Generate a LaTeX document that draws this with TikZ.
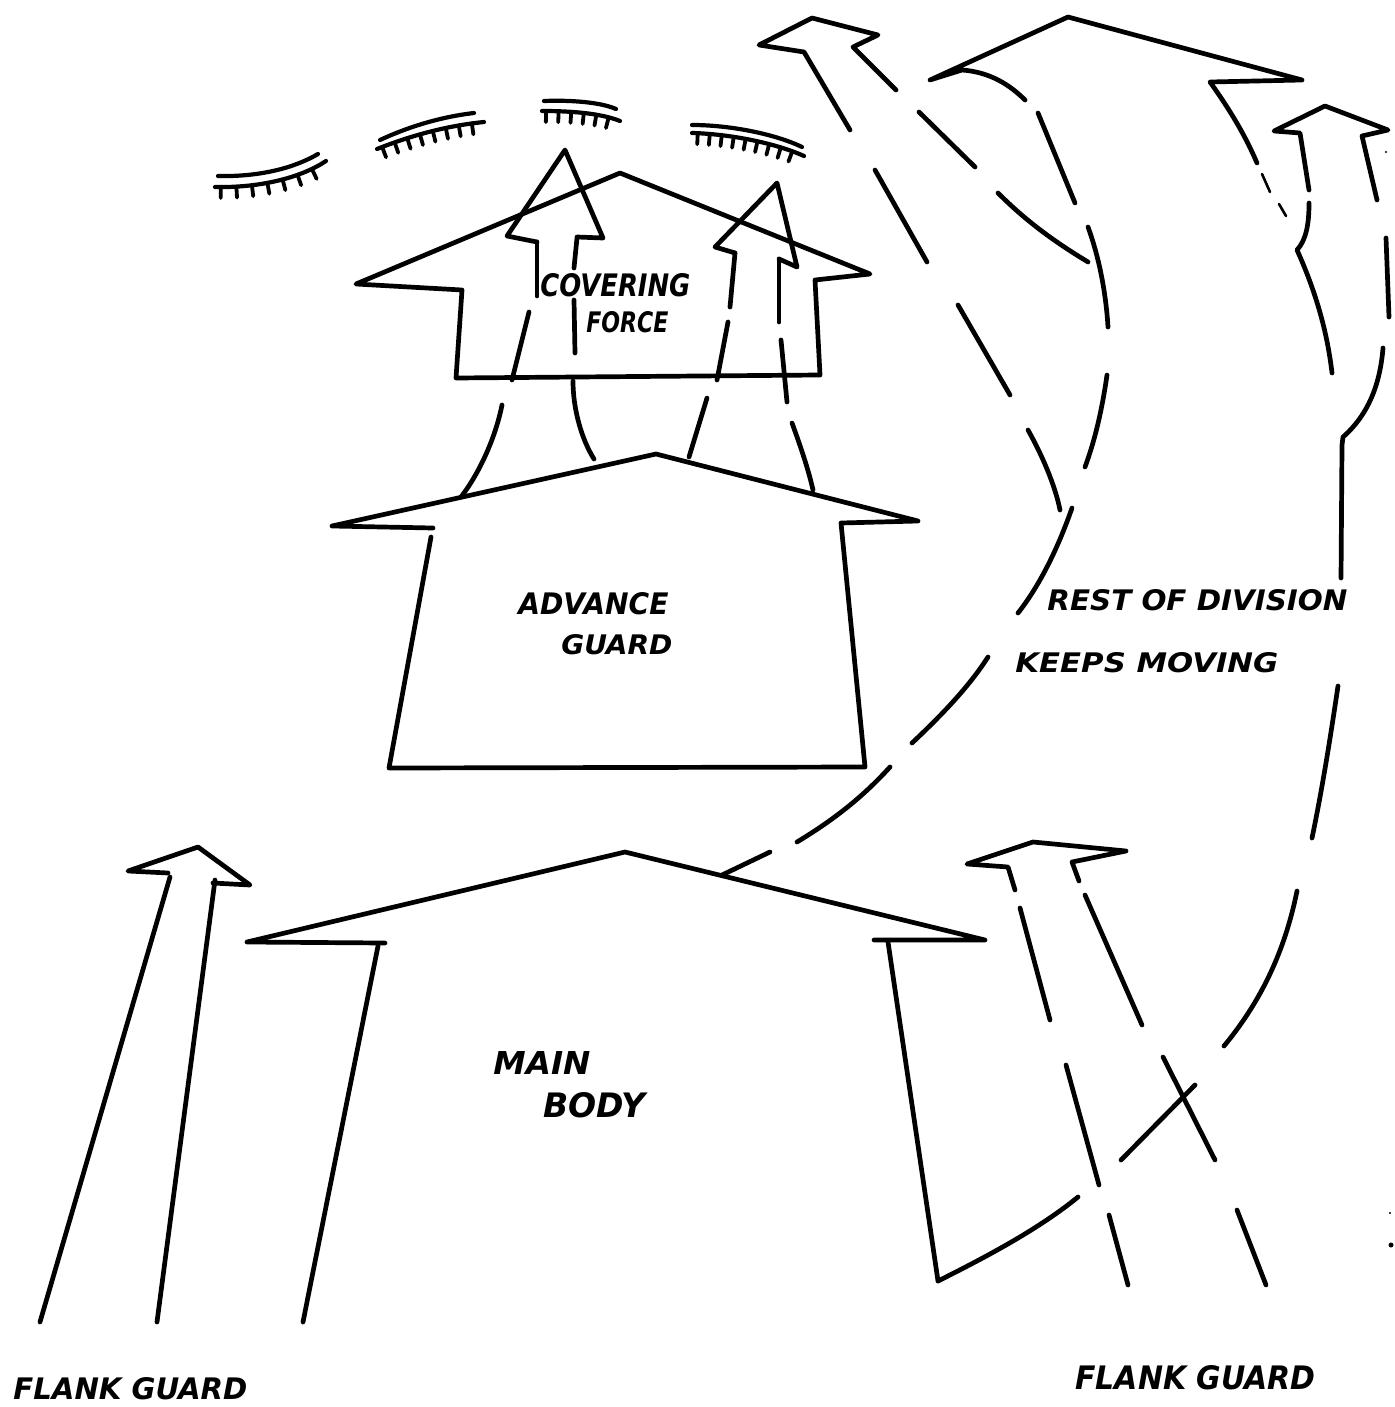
\documentclass[tikz,border=0pt]{standalone}
\usepackage{graphicx}
\usepackage{fontspec}
\newfontfamily\hwfont{DejaVu Sans}
\usetikzlibrary{decorations.markings}
\newcommand{\hwtext}[3]{\resizebox{#1}{#2}{\hwfont\bfseries\itshape #3}}
\tikzset{
  ink/.style={line width=2.35pt,line cap=round,line join=round},
  faint/.style={line width=1.3pt,line cap=round},
  lash/.style={line width=2.1pt,line cap=round},
  ticked/.style={lash,postaction={decorate},decoration={markings,
     mark=between positions 0.05 and 0.97 step #1 with {\draw[line width=1.9pt,line cap=round] (0pt,0pt) -- (0pt,-5.5pt);}}},
  lbl/.style={anchor=south west,inner sep=0pt}
}
\begin{document}
\begin{tikzpicture}[x=0.5pt,y=-0.5pt]
\fill[white] (0,0) rectangle (1394,1407);
\useasboundingbox (0,0) rectangle (1394,1407);

% ---- obstacle / enemy lines at top ----
\draw[lash] (218,176) .. controls (262,177) and (296,167) .. (318,154);
\draw[ticked=0.135] (215,187) .. controls (262,188) and (302,177) .. (326,161);
\draw[lash] (380,140) .. controls (408,127) and (440,117) .. (474,113);
\draw[ticked=0.12] (377,149) .. controls (410,136) and (445,126) .. (484,122);
\draw[lash] (544,101) .. controls (570,100) and (600,102) .. (616,109);
\draw[ticked=0.16] (542,111) .. controls (570,111) and (600,113) .. (620,121);
\draw[lash] (692,125) .. controls (730,125) and (775,134) .. (802,147);
\draw[ticked=0.105] (692,133) .. controls (730,134) and (775,143) .. (804,156);

% ---- covering force ----
\draw[ink] (462,290) -- (356,284) -- (620,173) -- (870,274) -- (815,280) -- (820,375) -- (456,378) -- cycle;
% left small arrow
\draw[ink] (537,242) -- (507,236) -- (565,150) -- (603,238) -- (577,237);
\draw[ink] (537,242) -- (537,296);
\draw[ink] (529,312) -- (512,380);
\draw[ink] (502,405) .. controls (495,440) and (478,475) .. (461,497);
\draw[ink] (577,238) -- (574,268);
\draw[ink] (574,300) -- (575,353);
\draw[ink] (573,381) .. controls (573,410) and (582,440) .. (594,459);
% right small arrow
\draw[ink] (735,253) -- (715,247) -- (777,183) -- (797,267) -- (779,259);
\draw[ink] (735,253) -- (730,307);
\draw[ink] (728,322) -- (717,380);
\draw[ink] (707,398) -- (689,457);
\draw[ink] (779,259) -- (779,322);
\draw[ink] (781,340) -- (787,402);
\draw[ink] (792,423) .. controls (800,445) and (808,468) .. (813,490);

% ---- advance guard ----
\draw[ink] (433,528) -- (332,526) -- (656,454) -- (918,521) -- (841,523) -- (865,767) -- (389,768) -- (431,537);

% ---- main body ----
\draw[ink] (385,943) -- (247,942) -- (625,852) -- (985,940) -- (874,940);
\draw[ink] (378,946) -- (303,1322);
\draw[ink] (888,942) -- (938,1281);

% ---- left flank guard ----
\draw[ink] (168,873) -- (128,871) -- (198,847) -- (250,885) -- (213,883);
\draw[ink] (170,877) -- (40,1322);
\draw[ink] (215,880) -- (157,1322);

% ---- right flank guard (dashed) ----
\draw[ink] (1015,890) -- (1008,867) -- (967,864) -- (1033,842) -- (1126,851) -- (1072,862) -- (1079,881);
\draw[ink] (1020,908) -- (1050,1020);
\draw[ink] (1066,1065) -- (1099,1185);
\draw[ink] (1109,1215) -- (1128,1285);
\draw[ink] (1085,895) -- (1142,1025);
\draw[ink] (1163,1057) -- (1215,1160);
\draw[ink] (1237,1210) -- (1266,1285);

% ---- top small arrow and its dashed shafts ----
\draw[ink] (850,130) -- (804,52) -- (759,45) -- (812,18) -- (878,35) -- (853,47) -- (896,90);
\draw[ink] (875,170) -- (927,262);
\draw[ink] (958,305) -- (1010,395);
\draw[ink] (1028,430) .. controls (1042,455) and (1055,485) .. (1060,510);
\draw[ink] (919,112) -- (975,167);
\draw[ink] (998,193) .. controls (1030,225) and (1060,245) .. (1088,262);

% ---- big top arrow (rest of division) ----
\draw[ink] (1025,100) .. controls (1010,85) and (990,72) .. (962,70) -- (930,80) -- (1068,17) -- (1302,80) -- (1210,82) .. controls (1230,110) and (1245,135) .. (1257,163);
\draw[faint] (1262,174) -- (1270,192);
\draw[faint] (1279,204) -- (1286,216);
\draw[ink] (1038,113) -- (1075,203);
\draw[ink] (1088,227) .. controls (1100,260) and (1106,295) .. (1108,327);
\draw[ink] (1107,375) .. controls (1102,410) and (1095,440) .. (1085,467);
\draw[ink] (1072,508) .. controls (1058,548) and (1040,585) .. (1018,613);
\draw[ink] (988,657) .. controls (970,685) and (945,712) .. (912,743);
\draw[ink] (890,767) .. controls (860,800) and (830,822) .. (797,842);
\draw[ink] (770,852) -- (722,875);

% ---- small right arrow and long dashed curve ----
\draw[ink] (1309,190) -- (1300,133) -- (1274,131) -- (1325,106) -- (1388,130) -- (1362,136) -- (1377,200);
\draw[ink] (1309,203) .. controls (1309,225) and (1306,240) .. (1297,250) .. controls (1315,290) and (1327,330) .. (1332,373);
\draw[ink] (1386,238) -- (1389,317);
\draw[ink] (1383,348) .. controls (1380,385) and (1368,415) .. (1343,437) -- (1342,445) -- (1341,578);
\draw[ink] (1338,686) .. controls (1330,740) and (1322,790) .. (1312,838);
\draw[ink] (1297,891) .. controls (1285,950) and (1262,1000) .. (1224,1046);
\draw[ink] (1195,1085) -- (1121,1160);
\draw[ink] (1078,1197) .. controls (1040,1228) and (990,1255) .. (938,1281);

% specks
\fill (1391,1245) circle (2.5);
\fill (1390,1213) circle (1.2);
\fill (1386,152) circle (1.2);

% ---- labels ----
\node[lbl] (tcov) at (540,297) {\hwtext{75pt}{11.5pt}{COVERING}};
\node[lbl] (tforce) at (586,333) {\hwtext{41pt}{10.5pt}{FORCE}};
\node[lbl] (tadv) at (518,615) {\hwtext{75pt}{11pt}{ADVANCE}};
\node[lbl] (tguard) at (561,655) {\hwtext{55.5pt}{10pt}{GUARD}};
\node[lbl] (tmain) at (493,1075) {\hwtext{48.5pt}{11.5pt}{MAIN}};
\node[lbl] (tbody) at (543,1118) {\hwtext{51pt}{12.5pt}{BODY}};
\node[lbl] (trest) at (1047,611) {\hwtext{150pt}{10.5pt}{REST OF DIVISION}};
\node[lbl] (tkeep) at (1015,673) {\hwtext{131.5pt}{10pt}{KEEPS MOVING}};
\node[lbl] (tflankl) at (13,1400) {\hwtext{117pt}{11pt}{FLANK GUARD}};
\node[lbl] (tflankr) at (1075,1390) {\hwtext{120pt}{12pt}{FLANK GUARD}};
\end{tikzpicture}
\end{document}
